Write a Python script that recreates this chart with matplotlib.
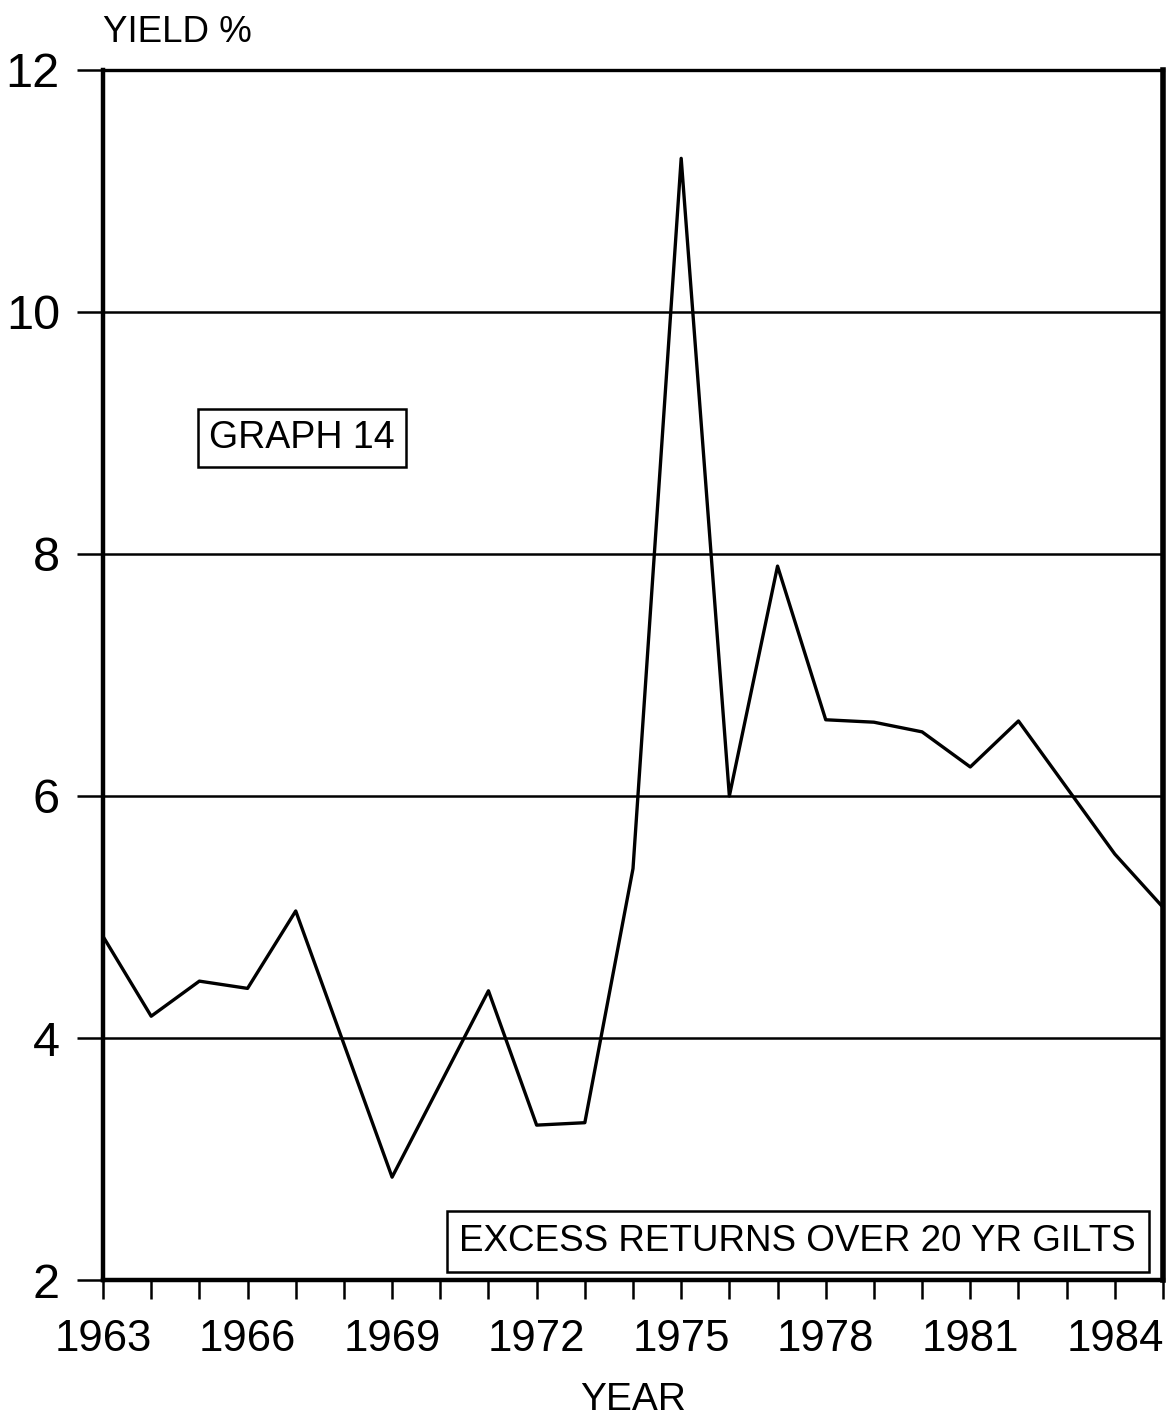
import numpy as np
import matplotlib.pyplot as plt

# excess returns over 20 yr gilts, yield %
years = np.arange(1963, 1986)
excess_yield = [4.84, 4.18, 4.47, 4.41, 5.05, 3.95, 2.85, 3.62, 4.39, 3.28, 3.30,
                5.40, 11.27, 6.00, 7.90, 6.63, 6.61, 6.53, 6.24, 6.62, 6.07, 5.52, 5.08]
label_years = [1963, 1966, 1969, 1972, 1975, 1978, 1981, 1984]
yticks = [2, 4, 6, 8, 10, 12]

plt.rcParams['font.family'] = ['Liberation Sans', 'DejaVu Sans']

fig = plt.figure(figsize=(11.73, 14.23), dpi=100)
ax = fig.add_axes([103 / 1173, 143 / 1423, 1060 / 1173, 1210 / 1423])

ax.plot(years, excess_yield, color='black', lw=2.4, zorder=3)

ax.set_xlim(1963, 1985)
ax.set_ylim(2, 12)

for y in yticks[1:-1]:
    ax.axhline(y, color='black', lw=1.8, zorder=2)

ax.set_yticks(yticks)
ax.set_yticklabels([str(v) for v in yticks], fontsize=35)
ax.tick_params(axis='y', length=19, width=1.8, pad=12, direction='out')

ax.set_xticks(years, minor=True)
ax.set_xticks(label_years)
ax.set_xticklabels([str(v) for v in label_years], fontsize=31.5)
ax.tick_params(axis='x', which='both', length=14, width=1.8, pad=14, direction='out')

for side, w in [('left', 3.2), ('bottom', 3.2), ('right', 4.0), ('top', 2.4)]:
    ax.spines[side].set_linewidth(w)
    ax.spines[side].set_color('black')

fig.text(103 / 1173, 1 - 33 / 1423, 'YIELD %', fontsize=26.5, ha='left', va='center')
fig.text(633 / 1173, 1 - 1400 / 1423, 'YEAR', fontsize=28, ha='center', va='center')

ax.text(1967.13, 8.96, 'GRAPH 14', fontsize=27, ha='center', va='center', zorder=4,
        bbox=dict(boxstyle='square,pad=0.3', fc='white', ec='black', lw=1.8))
ax.text(1977.42, 2.32, 'EXCESS RETURNS OVER 20 YR GILTS', fontsize=26.5, ha='center',
        va='center', zorder=4,
        bbox=dict(boxstyle='square,pad=0.35', fc='white', ec='black', lw=1.8))

fig.savefig('out.png', dpi=100)
